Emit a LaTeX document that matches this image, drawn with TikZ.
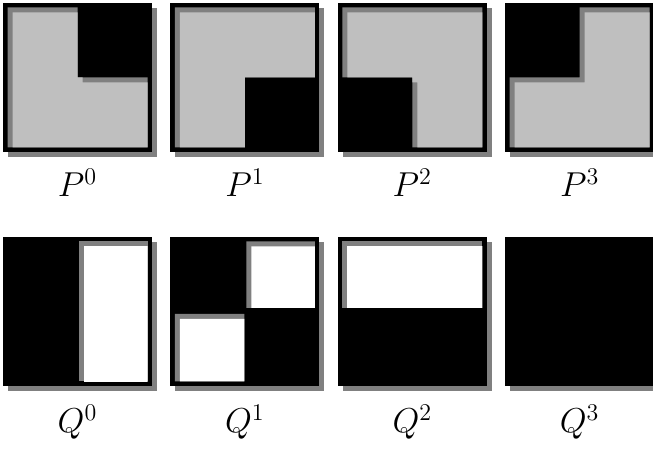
\documentclass[tikz,border=0pt]{standalone}
\usepackage{tikz}
\usetikzlibrary{calc}
\definecolor{tilegray}{gray}{0.75}
\definecolor{shadegray}{gray}{0.5}
% #1 name, #2 lower left corner, #3 colour of the hole, #4 hole path
\newcommand{\drawtile}[4]{%
  \coordinate (#1) at #2;
  \begin{scope}[shift={(#1)}]
    \fill[shadegray] (5,-5) rectangle +(149,149);
    \fill[black] (0,0) rectangle (149,149);
    \ifx\relax#4\relax\else
      \fill[shadegray] #4;
      \begin{scope}
        \clip #4;
        \fill[#3,shift={(5,-5)}] #4;
      \end{scope}
    \fi
  \end{scope}}

\begin{document}
\begin{tikzpicture}[
  x=0.5pt,y=0.5pt,
  lbl/.style={anchor=base,inner sep=0pt,font=\fontsize{17.5}{21}\selectfont}
]
\useasboundingbox (0,0) rectangle (653,454);
% top row
\drawtile{tp0}{(3,302)}{tilegray}{(4.5,4.5) -- (144.5,4.5) -- (144.5,74.5) -- (74.5,74.5) -- (74.5,144.5) -- (4.5,144.5) -- cycle}
\drawtile{tp1}{(170.4,302)}{tilegray}{(4.5,4.5) -- (74.5,4.5) -- (74.5,74.5) -- (144.5,74.5) -- (144.5,144.5) -- (4.5,144.5) -- cycle}
\drawtile{tp2}{(337.8,302)}{tilegray}{(74.5,4.5) -- (144.5,4.5) -- (144.5,144.5) -- (4.5,144.5) -- (4.5,74.5) -- (74.5,74.5) -- cycle}
\drawtile{tp3}{(505.2,302)}{tilegray}{(4.5,4.5) -- (144.5,4.5) -- (144.5,144.5) -- (74.5,144.5) -- (74.5,74.5) -- (4.5,74.5) -- cycle}
% bottom row
\drawtile{tq0}{(3,68)}{white}{(76,4.5) rectangle (144.5,144.5)}
\drawtile{tq1}{(170.4,68)}{white}{(76,78) rectangle (144.5,144.5) (4.5,4.5) rectangle (74,72)}
\drawtile{tq2}{(337.8,68)}{white}{(4.5,78) rectangle (144.5,144.5)}
\drawtile{tq3}{(505.2,68)}{white}{}
% labels
\foreach \i in {0,...,3} {\node[lbl] (lp\i) at ($(tp\i)+(74.5,-45)$) {$P^{\i}$};}
\foreach \i in {0,...,3} {\node[lbl] (lq\i) at ($(tq\i)+(74.5,-47)$) {$Q^{\i}$};}
\end{tikzpicture}
\end{document}
